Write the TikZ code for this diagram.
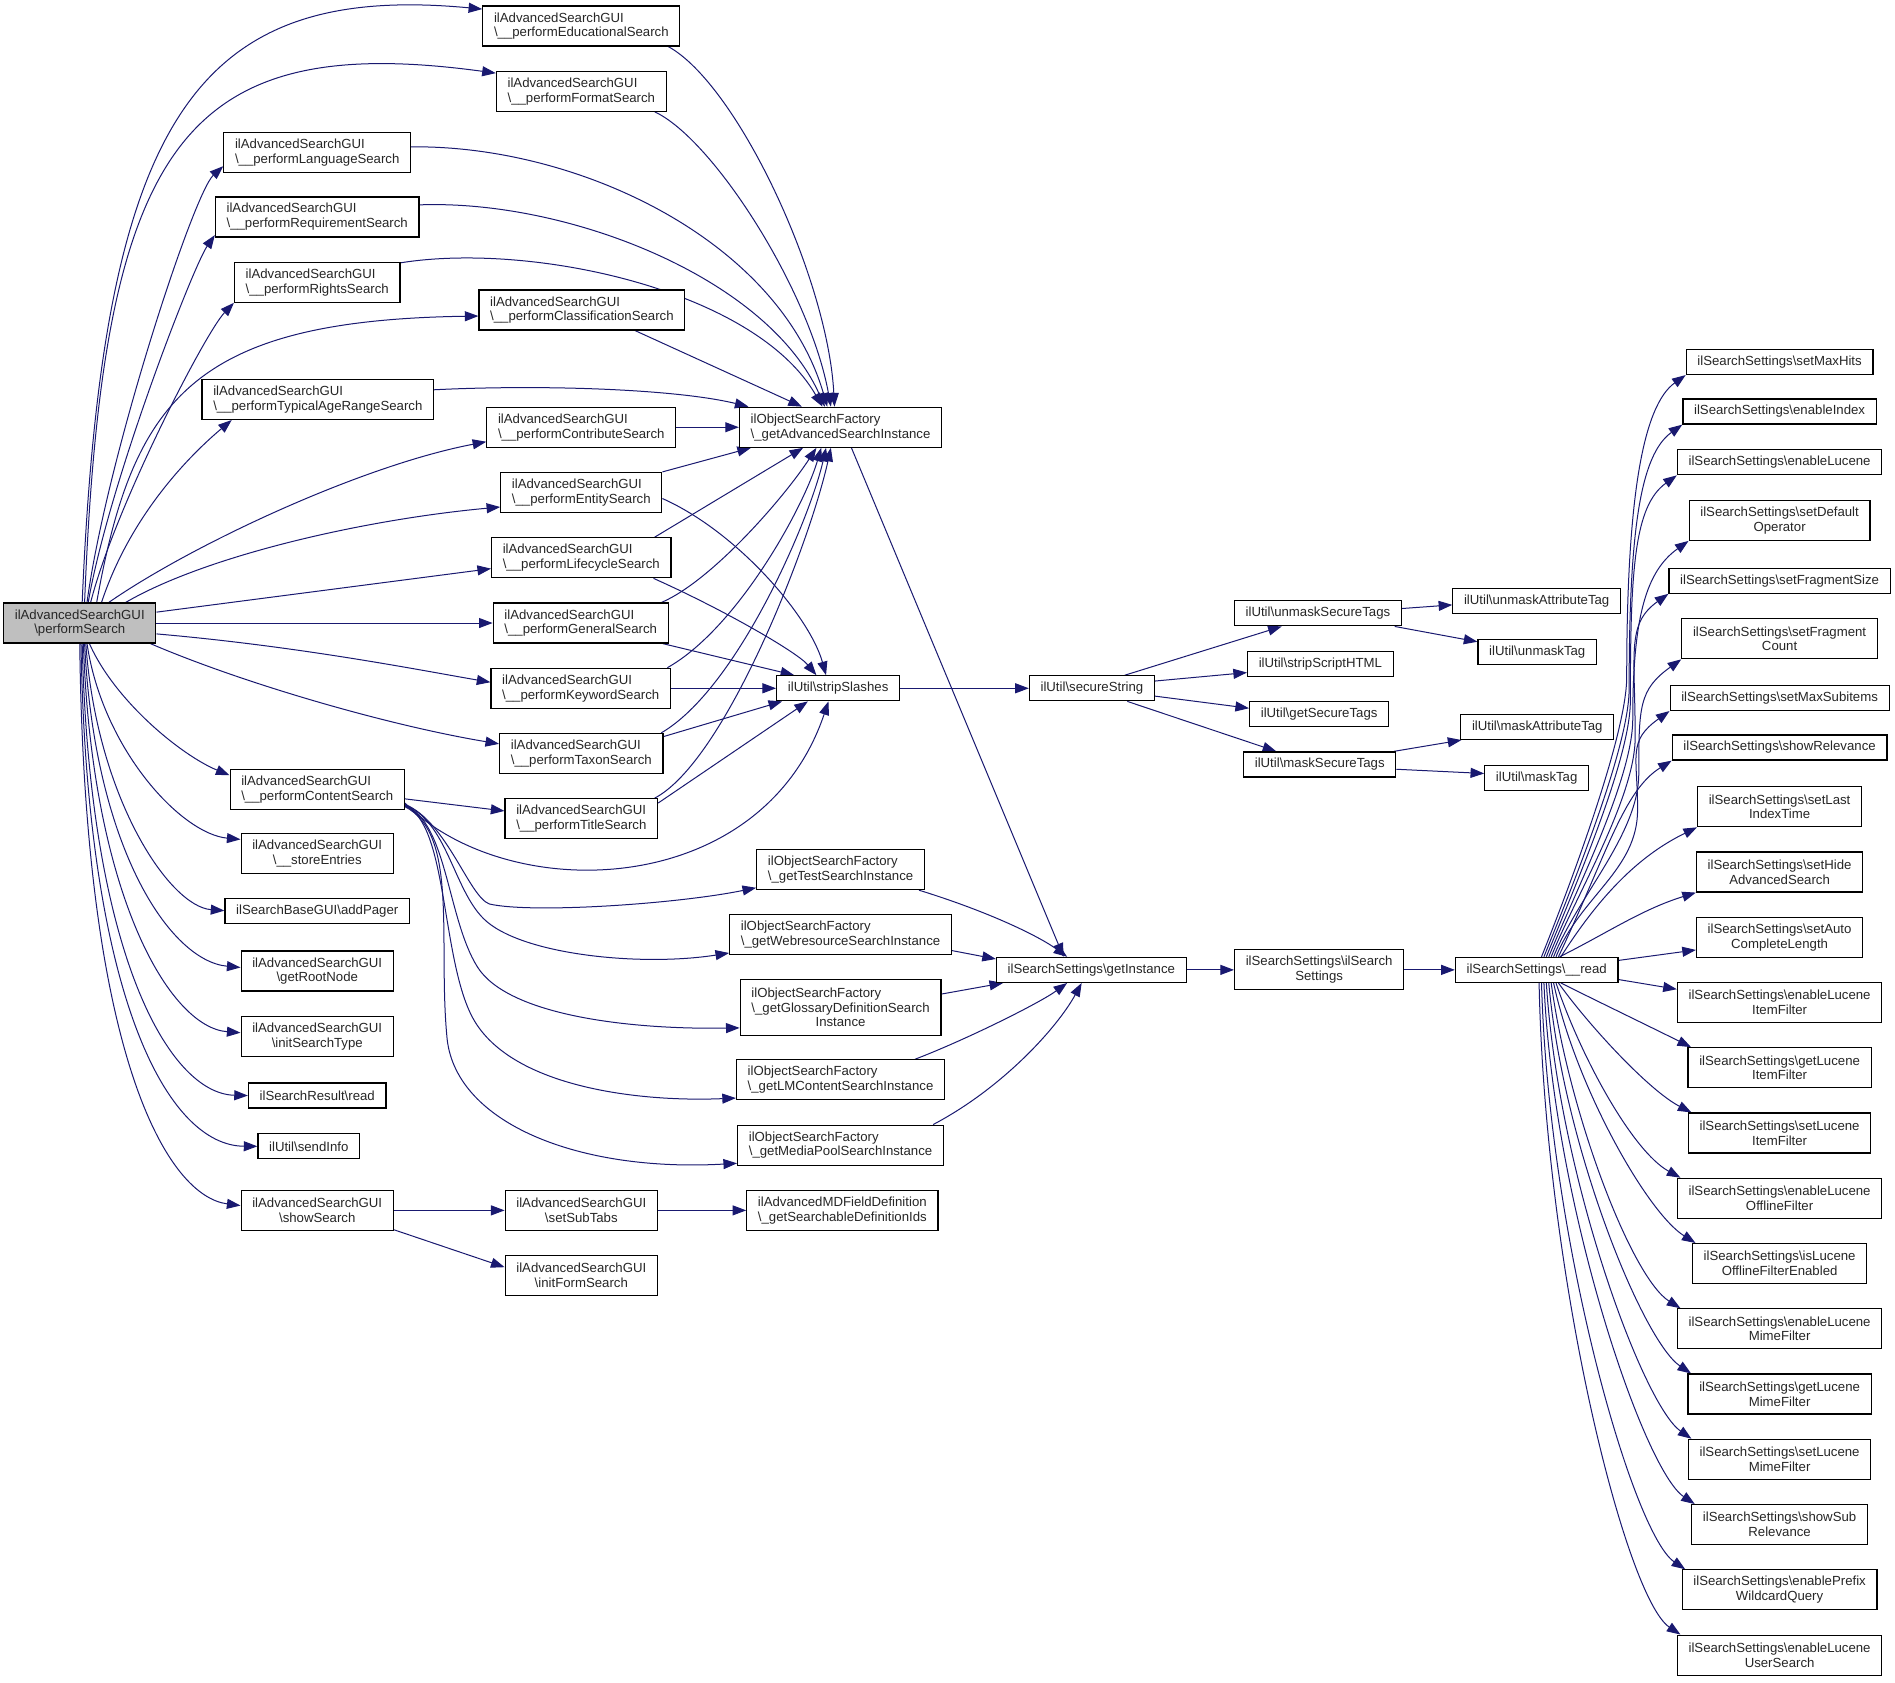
\documentclass[tikz,border=0pt]{standalone}
\usepackage{fontspec}
\setmainfont{Liberation Sans}
\usetikzlibrary{arrows.meta,calc}
\definecolor{edgecol}{HTML}{191970}
\definecolor{maingray}{HTML}{BFBFBF}
\newcommand\BSL{\textbackslash{}}
\pgfdeclarelayer{bglayer}
\pgfdeclarelayer{edgelayer}
\pgfsetlayers{bglayer,edgelayer,main}
\begin{document}
\begin{tikzpicture}[x=0.6043pt,y=-0.6043pt,
 box/.style={draw=black, line width=0.6pt, fill=white, inner xsep=5.6pt, inner ysep=0pt, text=black!85, font=\fontsize{6.6}{7.4}\selectfont},
 one/.style={box, minimum height=12.5pt, align=center},
 two/.style={box, minimum height=20pt, align=center},
 twol/.style={box, minimum height=20pt, align=left},
 three/.style={box, minimum height=27.8pt, align=center},
 edge/.style={draw=edgecol, line width=0.5pt, -{Triangle[length=6.8pt,width=5pt]}}]
\useasboundingbox (0,0) rectangle (1568,1392.5);
\begin{pgfonlayer}{bglayer}
\fill[white] (0,0) rectangle (1568,1392.5);
\end{pgfonlayer}

% ---- left column
\node[two, fill=maingray] (main) at (66,515.5) {ilAdvancedSearchGUI\\\BSL performSearch};

\node[twol] (edu) at (481,21.5) {ilAdvancedSearchGUI\\\BSL\_\_performEducationalSearch};
\node[twol] (fmt) at (481,75.5) {ilAdvancedSearchGUI\\\BSL\_\_performFormatSearch};
\node[twol] (lang) at (262.5,126.5) {ilAdvancedSearchGUI\\\BSL\_\_performLanguageSearch};
\node[twol] (req) at (262.5,179.5) {ilAdvancedSearchGUI\\\BSL\_\_performRequirementSearch};
\node[twol] (rights) at (262.5,233.5) {ilAdvancedSearchGUI\\\BSL\_\_performRightsSearch};
\node[twol] (cls) at (481.5,256.5) {ilAdvancedSearchGUI\\\BSL\_\_performClassificationSearch};
\node[twol] (typ) at (263,330.5) {ilAdvancedSearchGUI\\\BSL\_\_performTypicalAgeRangeSearch};
\node[twol] (contrib) at (481,353.5) {ilAdvancedSearchGUI\\\BSL\_\_performContributeSearch};
\node[twol] (entity) at (481,407.5) {ilAdvancedSearchGUI\\\BSL\_\_performEntitySearch};
\node[twol] (life) at (481,461.5) {ilAdvancedSearchGUI\\\BSL\_\_performLifecycleSearch};
\node[twol] (general) at (480.5,515.5) {ilAdvancedSearchGUI\\\BSL\_\_performGeneralSearch};
\node[twol] (keyword) at (480.5,569.5) {ilAdvancedSearchGUI\\\BSL\_\_performKeywordSearch};
\node[twol] (taxon) at (481,623.5) {ilAdvancedSearchGUI\\\BSL\_\_performTaxonSearch};
\node[twol] (content) at (262.5,653.5) {ilAdvancedSearchGUI\\\BSL\_\_performContentSearch};
\node[twol] (title) at (481,677.5) {ilAdvancedSearchGUI\\\BSL\_\_performTitleSearch};
\node[two] (store) at (262.5,706.5) {ilAdvancedSearchGUI\\\BSL\_\_storeEntries};
\node[one] (pager) at (262.5,753.5) {ilSearchBaseGUI\BSL addPager};
\node[two] (root) at (262.5,803.5) {ilAdvancedSearchGUI\\\BSL getRootNode};
\node[two] (itype) at (262.5,857.5) {ilAdvancedSearchGUI\\\BSL initSearchType};
\node[one] (sread) at (262.5,906.5) {ilSearchResult\BSL read};
\node[one] (sinfo) at (255.5,948.5) {ilUtil\BSL sendInfo};
\node[two] (show) at (262.5,1001.5) {ilAdvancedSearchGUI\\\BSL showSearch};
\node[two] (subtabs) at (481,1001.5) {ilAdvancedSearchGUI\\\BSL setSubTabs};
\node[two] (iform) at (481,1055.5) {ilAdvancedSearchGUI\\\BSL initFormSearch};
\node[twol] (amd) at (697,1001.5) {ilAdvancedMDFieldDefinition\\\BSL\_getSearchableDefinitionIds};

% ---- factory column
\node[twol] (asi) at (695.5,353.5) {ilObjectSearchFactory\\\BSL\_getAdvancedSearchInstance};
\node[one] (strip) at (693.5,569.5) {ilUtil\BSL stripSlashes};
\node[twol] (test) at (695.5,719.5) {ilObjectSearchFactory\\\BSL\_getTestSearchInstance};
\node[twol] (web) at (695.5,773.5) {ilObjectSearchFactory\\\BSL\_getWebresourceSearchInstance};
\node[three] (gloss) at (695.5,833.5) {\rlap{ilObjectSearchFactory}\phantom{\BSL\_getGlossaryDefinitionSearch}\\\BSL\_getGlossaryDefinitionSearch\\Instance};
\node[twol] (lm) at (695.5,893.5) {ilObjectSearchFactory\\\BSL\_getLMContentSearchInstance};
\node[twol] (media) at (695.5,947.5) {ilObjectSearchFactory\\\BSL\_getMediaPoolSearchInstance};

% ---- util / settings
\node[one] (ginst) at (903,802.5) {ilSearchSettings\BSL getInstance};
\node[one] (secure) at (903.5,569.5) {ilUtil\BSL secureString};
\node[two] (ctor) at (1091.5,802.5) {ilSearchSettings\BSL ilSearch\\Settings};
\node[one] (umst) at (1090.5,507.5) {ilUtil\BSL unmaskSecureTags};
\node[one] (sshtml) at (1092.5,549.5) {ilUtil\BSL stripScriptHTML};
\node[one] (gst) at (1091.5,590.5) {ilUtil\BSL getSecureTags};
\node[one] (mst) at (1092,632.5) {ilUtil\BSL maskSecureTags};
\node[one] (umat) at (1271.5,497.5) {ilUtil\BSL unmaskAttributeTag};
\node[one] (umt) at (1272,539.5) {ilUtil\BSL unmaskTag};
\node[one] (mat) at (1272,601.5) {ilUtil\BSL maskAttributeTag};
\node[one] (mt) at (1271.5,643.5) {ilUtil\BSL maskTag};
\node[one] (read) at (1271.5,802.5) {ilSearchSettings\BSL\_\_read};

% ---- right column
\node[one] (r1) at (1472.5,299.5) {ilSearchSettings\BSL setMaxHits};
\node[one] (r2) at (1472.5,340.5) {ilSearchSettings\BSL enableIndex};
\node[one] (r3) at (1472.5,382.5) {ilSearchSettings\BSL enableLucene};
\node[two] (r4) at (1472.5,430.5) {ilSearchSettings\BSL setDefault\\Operator};
\node[one] (r5) at (1472.5,480.5) {ilSearchSettings\BSL setFragmentSize};
\node[two] (r6) at (1472.5,528.5) {ilSearchSettings\BSL setFragment\\Count};
\node[one] (r7) at (1472.5,577.5) {ilSearchSettings\BSL setMaxSubitems};
\node[one] (r8) at (1472.5,618.5) {ilSearchSettings\BSL showRelevance};
\node[two] (r9) at (1472.5,667.5) {ilSearchSettings\BSL setLast\\IndexTime};
\node[two] (r10) at (1472.5,721.5) {ilSearchSettings\BSL setHide\\AdvancedSearch};
\node[two] (r11) at (1472.5,775.5) {ilSearchSettings\BSL setAuto\\CompleteLength};
\node[two] (r12) at (1472.5,829.5) {ilSearchSettings\BSL enableLucene\\ItemFilter};
\node[two] (r13) at (1472.5,883.5) {ilSearchSettings\BSL getLucene\\ItemFilter};
\node[two] (r14) at (1472.5,937.5) {ilSearchSettings\BSL setLucene\\ItemFilter};
\node[two] (r15) at (1472.5,991.5) {ilSearchSettings\BSL enableLucene\\OfflineFilter};
\node[two] (r16) at (1472.5,1045.5) {ilSearchSettings\BSL isLucene\\OfflineFilterEnabled};
\node[two] (r17) at (1472.5,1099.5) {ilSearchSettings\BSL enableLucene\\MimeFilter};
\node[two] (r18) at (1472.5,1153.5) {ilSearchSettings\BSL getLucene\\MimeFilter};
\node[two] (r19) at (1472.5,1207.5) {ilSearchSettings\BSL setLucene\\MimeFilter};
\node[two] (r20) at (1472.5,1261.5) {ilSearchSettings\BSL showSub\\Relevance};
\node[two] (r21) at (1472.5,1315.5) {ilSearchSettings\BSL enablePrefix\\WildcardQuery};
\node[two] (r22) at (1472.5,1369.5) {ilSearchSettings\BSL enableLucene\\UserSearch};

% ================= edges
\begin{pgfonlayer}{edgelayer}
% main -> upper column 2
\draw[edge] ($(main.north)+(2,0)$) .. controls (85,100) and (160,-15) .. ($(edu.west)+(0,-14)$);
\draw[edge] ($(main.north)+(4,0)$) .. controls (85,120) and (150,25) .. ($(fmt.west)+(0,-15)$);
\draw[edge] ($(main.north)+(6,0)$) .. controls (88,380) and (160,160) .. ($(lang.west)+(0,11)$);
\draw[edge] ($(main.north)+(7,0)$) .. controls (90,400) and (160,220) .. ($(req.south west)+(0,-2)$);
\draw[edge] ($(main.north)+(9,0)$) .. controls (95,420) and (170,275) .. (rights.south west);
\draw[edge] ($(main.north)+(14,0)$) .. controls (110,330) and (160,265) .. ($(cls.west)+(0,5)$);
\draw[edge] ($(main.north)+(18,0)$) .. controls (110,420) and (165,370) .. ($(typ.south west)+(25,0)$);
\draw[edge] ($(main.north)+(24,0)$) .. controls (160,450) and (300,385) .. ($(contrib.west)+(0,12)$);
\draw[edge] ($(main.north)+(38,0)$) .. controls (170,460) and (300,430) .. ($(entity.west)+(0,12)$);
\draw[edge] ($(main.east)+(0,-9)$) -- ($(life.west)+(0,9)$);
\draw[edge] (main.east) -- (general.west);
\draw[edge] ($(main.east)+(0,9)$) .. controls (250,535) and (350,555) .. ($(keyword.west)+(0,-5)$);
\draw[edge] ($(main.south east)+(-5,0)$) .. controls (200,565) and (320,600) .. ($(taxon.west)+(0,-8)$);
% main -> lower column 2
\draw[edge] ($(main.south)+(8,0)$) .. controls (95,580) and (150,625) .. ($(content.north west)+(0,5)$);
\draw[edge] ($(main.south)+(6,0)$) .. controls (85,620) and (150,690) .. ($(store.west)+(0,-12)$);
\draw[edge] ($(main.south)+(5,0)$) .. controls (80,660) and (140,750) .. (pager.west);
\draw[edge] ($(main.south)+(4,0)$) .. controls (78,700) and (140,795) .. ($(root.west)+(0,-3)$);
\draw[edge] ($(main.south)+(3,0)$) .. controls (76,740) and (140,850) .. ($(itype.west)+(0,-3)$);
\draw[edge] ($(main.south)+(2,0)$) .. controls (74,790) and (140,905) .. (sread.west);
\draw[edge] ($(main.south)+(1,0)$) .. controls (72,830) and (140,948) .. (sinfo.west);
\draw[edge] (main.south) .. controls (70,880) and (140,990) .. ($(show.west)+(0,-4)$);

% column 2 -> getAdvancedSearchInstance
\draw[edge] ($(edu.south east)+(-10,0)$) .. controls (610,70) and (685,230) .. ($(asi.north)+(-5,0)$);
\draw[edge] ($(fmt.south east)+(-10,0)$) .. controls (590,115) and (670,240) .. ($(asi.north)+(-8,0)$);
\draw[edge] ($(lang.east)+(0,-5)$) .. controls (480,120) and (645,200) .. ($(asi.north)+(-11,0)$);
\draw[edge] ($(req.east)+(0,-10)$) .. controls (470,165) and (635,230) .. ($(asi.north)+(-13,0)$);
\draw[edge] ($(rights.north east)+(0,1)$) .. controls (440,200) and (625,240) .. ($(asi.north)+(-15,0)$);
\draw[edge] ($(cls.south)+(44,0)$) -- ($(asi.north)+(-32,0)$);
\draw[edge] ($(typ.east)+(0,-8)$) .. controls (450,318) and (560,322) .. ($(asi.north west)+(8,0)$);
\draw[edge] (contrib.east) -- (asi.west);
\draw[edge] (entity.north east) -- ($(asi.south west)+(10,0)$);
\draw[edge] ($(life.north east)+(-14,0)$) -- ($(asi.south)+(-31,0)$);
\draw[edge] ($(general.north east)+(-6,0)$) .. controls (590,480) and (650,410) .. ($(asi.south)+(-20,0)$);
\draw[edge] ($(keyword.north east)+(-3,0)$) .. controls (610,520) and (665,420) .. ($(asi.south)+(-16,0)$);
\draw[edge] ($(taxon.north east)+(-2,0)$) .. controls (610,570) and (670,430) .. ($(asi.south)+(-12,0)$);
\draw[edge] ($(title.north east)+(-3,0)$) .. controls (600,630) and (670,450) .. ($(asi.south)+(-8,0)$);

% column 2 -> stripSlashes
\draw[edge] ($(entity.east)+(0,5)$) .. controls (610,440) and (670,510) .. ($(strip.north)+(-10,0)$);
\draw[edge] ($(life.south east)+(-15,0)$) .. controls (600,505) and (660,540) .. ($(strip.north)+(-18,0)$);
\draw[edge] ($(general.south east)+(-5,0)$) -- ($(strip.north west)+(15,0)$);
\draw[edge] (keyword.east) -- (strip.west);
\draw[edge] ($(taxon.north east)+(0,3)$) -- ($(strip.south west)+(5,0)$);
\draw[edge] ($(title.north east)+(0,4)$) -- ($(strip.south)+(-25,0)$);
\draw[edge] ($(content.east)+(0,11)$) .. controls (420,750) and (630,745) .. ($(strip.south)+(-8,0)$);

% content search -> factories
\draw[edge] ($(content.east)+(0,7.5)$) -- ($(title.west)+(0,-6.5)$);
\draw[edge] ($(content.east)+(0,12)$) .. controls (370,680) and (388,742) .. (405,748) .. controls (440,756) and (560,748) .. ($(test.south west)+(0,-2)$);
\draw[edge] ($(content.east)+(0,12.5)$) .. controls (370,680) and (375,735) .. (400,760) .. controls (430,790) and (530,800) .. ($(web.south west)+(0,-2)$);
\draw[edge] ($(content.east)+(0,13)$) .. controls (370,680) and (370,760) .. (395,800) .. controls (420,840) and (520,852) .. ($(gloss.west)+(0,17)$);
\draw[edge] ($(content.east)+(0,13.5)$) .. controls (370,680) and (365,790) .. (390,840) .. controls (420,900) and (530,912) .. ($(lm.south west)+(0,-2)$);
\draw[edge] ($(content.east)+(0,14)$) .. controls (380,690) and (362,780) .. (370,860) .. controls (378,930) and (480,970) .. ($(media.south west)+(0,-2)$);

% factories -> getInstance
\draw[edge] ($(asi.south)+(9,0)$) -- ($(ginst.north)+(-23,0)$);
\draw[edge] ($(test.south east)+(-5,0)$) .. controls (820,755) and (860,775) .. ($(ginst.north)+(-20,0)$);
\draw[edge] ($(web.south east)+(0,-4)$) -- ($(ginst.west)+(0,-9)$);
\draw[edge] ($(gloss.east)+(0,-11)$) -- ($(ginst.south west)+(6,0)$);
\draw[edge] ($(lm.north east)+(-25,0)$) .. controls (800,860) and (860,830) .. ($(ginst.south)+(-20,0)$);
\draw[edge] ($(media.north east)+(-9,0)$) .. controls (830,900) and (875,850) .. ($(ginst.south)+(-8,0)$);

% util chain
\draw[edge] (strip.east) -- (secure.west);
\draw[edge] ($(secure.north east)+(-25,0)$) -- ($(umst.south)+(-30,0)$);
\draw[edge] ($(secure.east)+(0,-6)$) -- ($(sshtml.west)+(0,7)$);
\draw[edge] ($(secure.east)+(0,6.5)$) -- ($(gst.west)+(0,-4.5)$);
\draw[edge] ($(secure.south east)+(-23,0)$) -- ($(mst.north)+(-36,0)$);
\draw[edge] ($(umst.east)+(0,-4)$) -- ($(umat.west)+(0,3)$);
\draw[edge] ($(umst.south east)+(-6,0)$) -- ($(umt.west)+(0,-8.5)$);
\draw[edge] ($(mst.north east)+(-2,0)$) -- ($(mat.south west)+(1,0)$);
\draw[edge] ($(mst.east)+(0,4)$) -- ($(mt.west)+(0,-3.5)$);

% settings chain
\draw[edge] (ginst.east) -- (ctor.west);
\draw[edge] (ctor.east) -- (read.west);

% show search
\draw[edge] (show.east) -- (subtabs.west);
\draw[edge] ($(show.south east)+(0,-1)$) -- ($(iform.west)+(0,-7)$);
\draw[edge] (subtabs.east) -- (amd.west);

% read -> right column, upper fan (two-piece curves)
\foreach \t/\s/\mx/\my/\a in {r1/4/1346/560/150, r2/6/1348/570/130, r3/8/1349/580/110,
  r4/10/1351/595/85, r5/12/1353/610/70, r6/14/1356/640/55, r7/16/1355/670/45}
  \draw[edge] ($(read.north)+(\s,0)$) .. controls +(20,-50) and +(0,50) .. (\mx,\my)
     .. controls +(0,-\a) and +(-35,25) .. (\t.south west);
\foreach \t/\s/\ax/\ay/\bx/\by in {r8/18/40/-85/-40/25, r9/20/35/-55/-45/22, r10/19/40/-20/-45/14}
  \draw[edge] ($(read.north)+(\s,0)$) .. controls +(\ax,\ay) and +(\bx,\by) .. (\t.south west);
\draw[edge] ($(read.north east)+(0,3)$) -- ($(r11.west)+(0,10.5)$);
\draw[edge] ($(read.east)+(0,8)$) -- ($(r12.west)+(0,-11)$);
% lower fan
\foreach \t/\s/\ax/\ay/\bx/\by in {r13/20/30/15/-30/-15, r14/18/25/35/-35/-18, r15/16/20/60/-40/-22,
  r16/14/18/85/-40/-25, r17/12/15/110/-40/-25, r18/10/12/135/-40/-27, r19/8/10/160/-40/-28,
  r20/6/8/185/-42/-28, r21/4/6/215/-43/-29, r22/2/5/245/-45/-30}
  \draw[edge] ($(read.south)+(\s,0)$) .. controls +(\ax,\ay) and +(\bx,\by) .. ($(\t.north west)+(3,0)$);
\end{pgfonlayer}
\end{tikzpicture}
\end{document}
